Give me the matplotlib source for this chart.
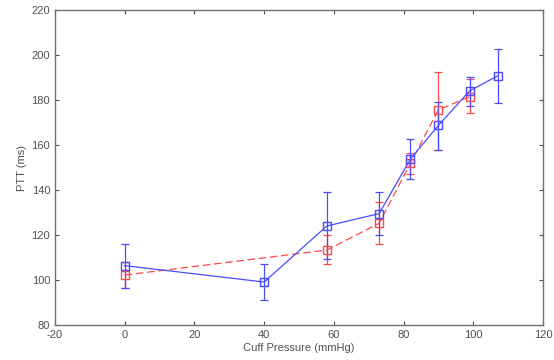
import matplotlib
matplotlib.use("Agg")
import matplotlib.pyplot as plt

plt.rcParams['font.family'] = ['Liberation Sans', 'DejaVu Sans']
plt.rcParams['axes.unicode_minus'] = False

blue_x = [0, 40, 58, 73, 82, 90, 99, 107]
blue_y = [106.4, 99.1, 124.0, 129.5, 153.8, 168.7, 184.1, 190.7]
blue_lo = [96.6, 91.0, 109.5, 120.0, 144.8, 157.8, 177.3, 178.5]
blue_hi = [115.9, 107.2, 139.0, 139.0, 162.7, 179.2, 190.4, 202.8]

red_x = [0, 58, 73, 82, 90, 99]
red_y = [102.2, 113.3, 125.2, 151.9, 175.6, 181.5]
red_lo = [96.6, 107.1, 116.0, 147.0, 157.8, 174.1]
red_hi = [108.0, 120.0, 134.8, 156.3, 192.6, 189.2]

xticks = [-20, 0, 20, 40, 60, 80, 100, 120]
yticks = [80, 100, 120, 140, 160, 180, 200, 220]

fig = plt.figure(figsize=(5.54, 3.6), dpi=100)
ax = fig.add_axes([0.0993, 0.0972, 0.8807, 0.875])

bc = '#4a4aff'
rc = '#ff4a4a'
ax.errorbar(red_x, red_y,
            yerr=[[y - l for y, l in zip(red_y, red_lo)], [h - y for y, h in zip(red_y, red_hi)]],
            color=rc, ls=(0, (6, 3)), lw=0.9, marker='s', mfc='none', mec=rc, ms=5.5,
            capsize=3, elinewidth=0.9, capthick=0.9)
ax.errorbar(blue_x, blue_y,
            yerr=[[y - l for y, l in zip(blue_y, blue_lo)], [h - y for y, h in zip(blue_y, blue_hi)]],
            color=bc, ls='-', lw=0.9, marker='s', mfc='none', mec=bc, ms=5.5,
            capsize=3, elinewidth=0.9, capthick=0.9)

ax.set_xlim(-20, 120)
ax.set_ylim(80, 220)
ax.set_xticks(xticks)
ax.set_yticks(yticks)
tc = '#505050'
ax.tick_params(direction='in', length=3, width=0.8, colors=tc, labelsize=8, top=True, right=True)
for s in ax.spines.values():
    s.set_color('#707070')
    s.set_linewidth(1.0)
ax.set_xlabel('Cuff Pressure (mmHg)', fontsize=8, color=tc, labelpad=2)
ax.set_ylabel('PTT (ms)', fontsize=8, color=tc, labelpad=3)

fig.savefig('out.png', dpi=100)
